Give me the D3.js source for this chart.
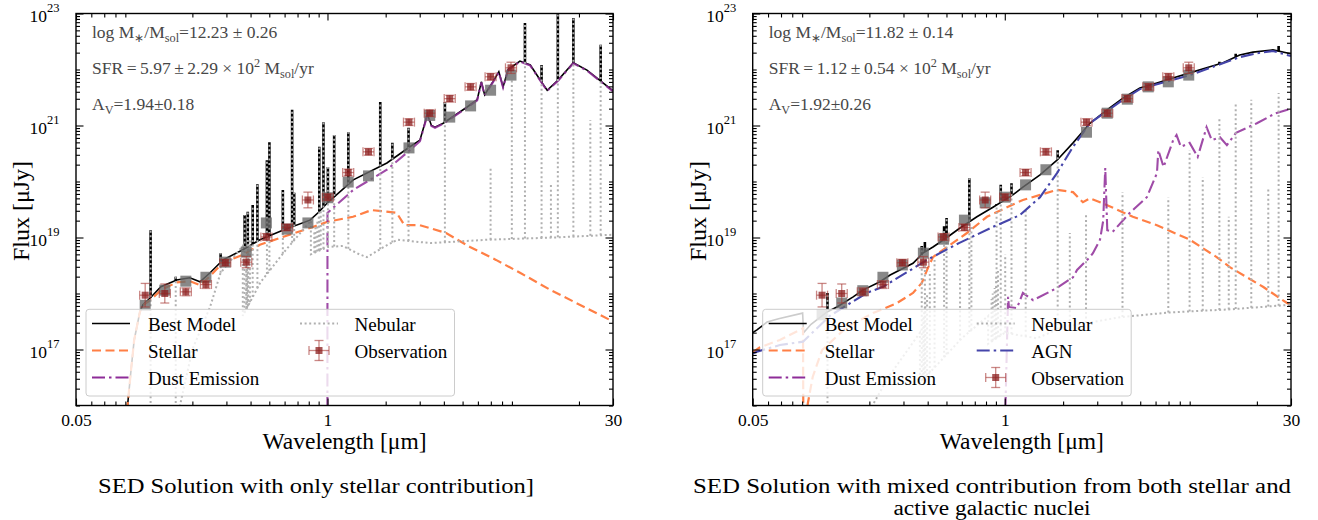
<!DOCTYPE html>
<html>
<head>
<meta charset="utf-8">
<script src="https://cdn.jsdelivr.net/npm/d3@7"></script>
<style>
  body { margin: 0; background: #fff; }
  svg { display: block; }
</style>
</head>
<body>
<script>
// ---- data (wavelength in micron, flux as log10 of microJy) ----
var obsWave    = [0.114, 0.144, 0.185, 0.235, 0.296, 0.38, 0.483, 0.619, 0.792, 1.004, 1.28, 1.63, 2.64, 3.38, 4.29, 5.5, 6.98, 8.9];
var obsLogFlux = [17.97, 18.0, 18.03, 18.16, 18.55, 18.56, 19.01, 19.18, 19.67, 19.72, 20.16, 20.53, 21.06, 21.22, 21.48, 21.69, 21.87, 22.03];
var obsLogErr  = [0.21, 0.17, 0.07, 0.07, 0.06, 0.1, 0.06, 0.06, 0.14, 0.06, 0.06, 0.06, 0.06, 0.06, 0.06, 0.06, 0.06, 0.1];

var leftModelPhot  = [17.79, 18.06, 18.22, 18.29, 18.56, 18.74, 19.26, 19.15, 19.26, 19.71, 19.99, 20.1, 20.6, 21.18, 21.15, 21.35, 21.63, 21.9];
var rightModelPhot = [17.62, 17.83, 18.05, 18.29, 18.51, 18.72, 18.97, 19.31, 19.62, 19.72, 19.94, 20.21, 20.88, 21.22, 21.47, 21.69, 21.78, 21.9];

// left panel: stellar only
var leftBest = [[0.0918,15.9],[0.0963,16.63],[0.1,17.17],[0.107,17.67],[0.111,17.8],[0.121,17.92],[0.1375,18.12],[0.166,18.24],[0.194,18.28],[0.219,18.21],[0.247,18.37],[0.288,18.6],[0.365,18.78],[0.447,18.96],[0.587,19.13],[0.812,19.31],[0.9,19.45],[1.0,19.62],[1.36,20.03],[2.03,20.33],[2.67,20.62],[3.01,20.74],[3.29,21.2],[3.45,21.0],[3.6,20.97],[3.97,21.04],[5.28,21.33],[5.95,21.46],[6.25,21.78],[6.5,21.55],[7.17,21.78],[7.7,21.96],[8.1,21.69],[8.6,22.0],[9.9,22.15],[11.2,22.08],[12.9,21.76],[13.7,21.63],[15.6,21.81],[18.7,22.12],[22.0,21.99],[30,21.62]];
var leftBestLines = [[0.1216,19.13],[0.164,18.3],[0.28,18.72],[0.3727,19.4],[0.3869,19.46],[0.4102,19.58],[0.434,19.95],[0.4861,20.38],[0.5007,20.7],[0.5876,19.85],[0.6563,21.28],[0.6725,19.8],[0.9069,20.62],[0.9531,21.06],[1.005,20.26],[1.083,20.83],[1.282,20.88],[1.875,21.42],[2.166,20.69],[2.626,20.96],[4.05,21.42],[10.51,22.83],[12.81,22.08],[15.55,23.2],[18.71,22.92],[25.9,22.44]];
var leftStellar = [[0.0918,15.9],[0.0963,16.63],[0.1,17.17],[0.107,17.67],[0.111,17.79],[0.121,17.88],[0.1375,18.06],[0.166,18.2],[0.194,18.22],[0.219,18.15],[0.247,18.31],[0.288,18.55],[0.365,18.69],[0.447,18.87],[0.587,19.01],[0.812,19.17],[1.0,19.28],[1.355,19.37],[1.69,19.49],[2.28,19.44],[2.5,19.22],[3.01,19.22],[4.11,19.08],[5.46,18.83],[7.44,18.6],[9.91,18.37],[14.3,18.06],[30,17.5]];
var leftDust = [[0.999,15.5],[1.0,19.44],[1.36,19.85],[2.03,20.21],[2.67,20.56],[3.01,20.72],[3.29,21.19],[3.45,20.99],[3.6,20.96],[3.97,21.03],[5.28,21.32],[5.95,21.45],[6.25,21.77],[6.5,21.54],[7.17,21.77],[7.7,21.95],[8.1,21.68],[8.6,21.99],[9.9,22.14],[11.2,22.07],[12.9,21.75],[13.7,21.62],[15.6,21.8],[18.7,22.11],[22.0,21.98],[30,21.61]];
var leftNebular = [[0.17,15.9],[0.2,17.0],[0.247,17.76],[0.28,18.37],[0.3646,18.85],[0.3648,17.6],[0.45,18.2],[0.6,18.75],[0.8204,19.3],[0.8206,18.7],[1.0,18.83],[1.2,18.85],[1.46,18.7],[1.6,18.65],[2.0,18.85],[2.3,18.96],[3.4,18.9],[6.7,18.96],[15,19.0],[30,19.05]];
var leftNebularLines = [[0.1216,19.13],[0.164,18.3],[0.28,18.72],[0.3727,19.4],[0.3798,18.6],[0.3835,18.7],[0.3869,19.46],[0.3889,18.9],[0.397,19.0],[0.4102,19.58],[0.434,19.95],[0.4861,20.38],[0.5007,20.7],[0.5876,19.85],[0.6563,21.28],[0.6725,19.8],[0.8545,19.1],[0.8665,19.2],[0.8863,19.3],[0.9015,19.4],[0.9069,20.62],[0.9229,19.5],[0.9531,21.06],[1.005,20.26],[1.083,20.83],[1.282,20.88],[1.875,21.42],[2.166,20.69],[2.626,20.96],[4.05,21.42],[6.98,20.24],[8.99,21.85],[10.51,22.83],[12.81,22.08],[14.32,19.97],[15.55,23.2],[18.71,22.92],[22.9,21.1],[25.9,22.44]];

// right panel: stellar + AGN
var rightBest = [[0.05,17.3],[0.0526,17.35],[0.0593,17.49],[0.068,17.55],[0.0905,17.65],[0.0915,17.3],[0.1,17.45],[0.121,17.67],[0.136,17.76],[0.165,17.94],[0.185,18.06],[0.227,18.21],[0.256,18.33],[0.336,18.54],[0.378,18.72],[0.426,18.83],[0.503,19.0],[0.587,19.17],[0.718,19.37],[0.869,19.54],[1.1,19.76],[1.24,19.9],[1.52,20.12],[1.86,20.38],[2.25,20.69],[2.75,21.04],[3.37,21.28],[4.07,21.49],[4.98,21.67],[6.1,21.76],[7.37,21.85],[9.02,21.94],[11.0,22.03],[13.4,22.12],[16.3,22.26],[19.1,22.31],[24.2,22.35],[30,22.28]];
var rightBestLines = [[0.1216,18.01],[0.3727,18.85],[0.3869,18.92],[0.4861,19.2],[0.5007,19.35],[0.6563,20.06],[0.9069,19.6],[0.9531,19.94],[1.083,19.97],[1.875,20.56],[12.81,22.14],[15.55,22.28],[25.9,22.42]];
var rightStellar = [[0.05,16.95],[0.0545,17.04],[0.0691,17.17],[0.0909,17.38],[0.0913,15.5],[0.0964,16.05],[0.102,16.51],[0.114,16.99],[0.153,17.4],[0.209,17.65],[0.278,17.83],[0.336,18.01],[0.373,18.19],[0.397,18.42],[0.426,18.65],[0.48,18.78],[0.503,18.83],[0.638,19.08],[0.809,19.37],[1.026,19.54],[1.24,19.67],[1.86,19.85],[2.25,19.81],[2.53,19.63],[2.75,19.7],[3.1,19.63],[3.62,19.53],[4.58,19.37],[6.1,19.22],[9.02,18.96],[12.4,18.65],[14.5,18.47],[21.5,18.12],[28.6,17.83],[30,17.79]];
var rightDust = [[1.0,15.5],[1.04,17.94],[1.05,17.76],[1.156,17.74],[1.24,18.01],[1.4,17.88],[1.86,18.1],[2.25,18.29],[2.36,18.42],[2.75,18.65],[2.85,18.72],[3.1,18.96],[3.22,19.3],[3.3,20.24],[3.38,19.13],[3.6,19.1],[4.42,19.44],[5.41,19.72],[6.1,20.15],[6.2,20.56],[6.6,20.26],[7.4,20.74],[7.7,20.83],[8.1,20.62],[9.0,20.69],[9.9,20.44],[11.0,20.97],[11.7,20.74],[12.9,20.79],[14.0,20.65],[15.6,20.87],[20.0,21.04],[25.0,21.22],[30,21.3]];
var rightAgn = [[0.05,16.93],[0.0526,16.96],[0.0691,17.08],[0.0909,17.14],[0.125,17.6],[0.153,17.79],[0.194,18.01],[0.235,18.12],[0.313,18.38],[0.397,18.6],[0.58,18.9],[0.87,19.19],[1.197,19.4],[1.52,19.72],[1.86,20.15],[2.25,20.62],[2.75,21.04],[3.37,21.26],[4.07,21.46],[4.98,21.65],[9.02,21.9],[16.3,22.22],[20.0,22.29],[24.2,22.33],[30,22.24]];
var rightNebular = [[0.2,15.9],[0.25,16.5],[0.3646,17.3],[0.3648,16.4],[0.6,17.2],[0.8204,17.6],[0.8206,17.1],[1.0,17.3],[1.46,17.2],[2.0,17.4],[4.0,17.58],[7.0,17.66],[15,17.72],[30,17.8]];
var rightNebularLines = [[0.1216,18.0],[0.3727,18.83],[0.3798,17.6],[0.3835,17.7],[0.3869,18.5],[0.3889,17.9],[0.397,18.0],[0.4102,18.4],[0.434,18.6],[0.4861,19.13],[0.5007,19.35],[0.5876,18.6],[0.6563,20.06],[0.6725,19.22],[0.8545,17.9],[0.8665,18.0],[0.8863,18.1],[0.9015,18.3],[0.9069,19.58],[0.9229,18.4],[0.9531,19.94],[1.005,18.7],[1.083,19.97],[1.282,19.49],[1.875,20.56],[2.166,19.08],[2.626,19.4],[4.05,19.81],[6.98,19.72],[8.99,20.56],[10.51,20.08],[12.81,21.13],[14.32,19.37],[15.55,21.42],[18.71,21.46],[22.9,19.88],[25.9,21.58]];

var xTickValues = [0.05, 1, 30];
var xTickLabels = ["0.05", "1", "30"];
var yLabelExps = [17, 19, 21, 23];

var leftNotes = [
  [["log M", ""], ["\u2217", "sub"], ["/M", ""], ["sol", "sub"], ["=12.23 \u00b1 0.26", ""]],
  [["SFR\u2009=\u20095.97\u2009\u00b1\u20092.29 \u00d7 10", ""], ["2", "sup"], [" M", ""], ["sol", "sub"], ["/yr", ""]],
  [["A", ""], ["V", "sub"], ["=1.94\u00b10.18", ""]]
];
var rightNotes = [
  [["log M", ""], ["\u2217", "sub"], ["/M", ""], ["sol", "sub"], ["=11.82 \u00b1 0.14", ""]],
  [["SFR\u2009=\u20091.12\u2009\u00b1\u20090.54 \u00d7 10", ""], ["2", "sup"], [" M", ""], ["sol", "sub"], ["/yr", ""]],
  [["A", ""], ["V", "sub"], ["=1.92\u00b10.26", ""]]
];

// ---- styles ----
var FONT = "'Liberation Serif', 'Times New Roman', serif";
var colors = {
  best: "#000000", stellar: "#ff7f45", dust: "#8e2c98", nebular: "#b0b0b0",
  agn: "#4545aa", obs: "#8b1e1e", obsBar: "#a83a36", phot: "#6a6a6a"
};
var dashes = { stellar: "9,4.5", dust: "13,4,2.5,4", agn: "13,4,2.5,4", nebular: "2,2.6" };

var svg = d3.select("body").append("svg").attr("width", 1318).attr("height", 520)
  .style("font-family", FONT);

function pow10(v) { return Math.pow(10, v); }

// value of a curve at a wavelength (log-log between the two neighbours); below the axis when outside it
function baseAt(curve, lam) {
  if (lam <= curve[0][0] || lam >= curve[curve.length - 1][0]) return 15.8;
  var i = d3.bisector(function(d) { return d[0]; }).right(curve, lam);
  var a = curve[i - 1], b = curve[i];
  var t = (Math.log(lam) - Math.log(a[0])) / (Math.log(b[0]) - Math.log(a[0]));
  return a[1] + t * (b[1] - a[1]);
}

function richText(g, x, y, parts, size, color) {
  var t = g.append("text").attr("x", x).attr("y", y).style("font-family", FONT)
    .style("font-size", size + "px").style("fill", color);
  var shift = 0;
  parts.forEach(function(p) {
    var target = p[1] === "sub" ? size * 0.25 : (p[1] === "sup" ? -size * 0.42 : 0);
    var s = t.append("tspan").text(p[0]).attr("dy", target - shift);
    if (p[1]) s.style("font-size", (size * 0.7) + "px");
    shift = target;
  });
  return t;
}

function drawObsMarker(g, cx, cy, yLo, yHi, hw, cap) {
  var m = g.append("g");
  m.append("line").attr("x1", cx).attr("x2", cx).attr("y1", yLo).attr("y2", yHi);
  m.append("line").attr("x1", cx - cap).attr("x2", cx + cap).attr("y1", yLo).attr("y2", yLo);
  m.append("line").attr("x1", cx - cap).attr("x2", cx + cap).attr("y1", yHi).attr("y2", yHi);
  m.append("line").attr("x1", cx - hw).attr("x2", cx + hw).attr("y1", cy).attr("y2", cy);
  m.append("line").attr("x1", cx - hw).attr("x2", cx - hw).attr("y1", cy - cap).attr("y2", cy + cap);
  m.append("line").attr("x1", cx + hw).attr("x2", cx + hw).attr("y1", cy - cap).attr("y2", cy + cap);
  m.selectAll("line").style("stroke", colors.obsBar).style("stroke-width", 1.3).style("opacity", 0.6);
  m.append("rect").attr("x", cx - 3.5).attr("y", cy - 3.5).attr("width", 7).attr("height", 7)
    .style("fill", colors.obs).style("opacity", 0.75);
}

function drawPanel(cfg) {
  var x = d3.scaleLog().domain([0.05, 30]).range([cfg.left, cfg.right]);
  var y = d3.scaleLog().domain([1e16, 1e23]).range([cfg.bottom, cfg.top]);
  var line = d3.line()
    .x(function(d) { return x(d[0]); })
    .y(function(d) { return y(pow10(d[1])); });

  var g = svg.append("g");
  g.append("clipPath").attr("id", "clip" + cfg.id).append("rect")
    .attr("x", cfg.left).attr("y", cfg.top)
    .attr("width", cfg.right - cfg.left).attr("height", cfg.bottom - cfg.top);
  var plot = g.append("g").attr("clip-path", "url(#clip" + cfg.id + ")");

  function spikes(lines, base) {
    var path = d3.path();
    lines.forEach(function(l) {
      var b = baseAt(base, l[0]);
      if (l[1] <= b) return;
      path.moveTo(x(l[0]), y(pow10(b)));
      path.lineTo(x(l[0]), y(pow10(l[1])));
    });
    return path.toString();
  }

  // best model
  plot.append("path").datum(cfg.best).attr("d", line)
    .style("fill", "none").style("stroke", colors.best).style("stroke-width", 1.6);
  plot.append("path").attr("d", spikes(cfg.bestLines, cfg.best))
    .style("fill", "none").style("stroke", colors.best).style("stroke-width", 2.6);

  // stellar
  plot.append("path").datum(cfg.stellar).attr("d", line)
    .style("fill", "none").style("stroke", colors.stellar).style("stroke-width", 2.2)
    .style("stroke-dasharray", dashes.stellar);

  // dust
  plot.append("path").datum(cfg.dust).attr("d", line)
    .style("fill", "none").style("stroke", colors.dust).style("stroke-width", 2.1)
    .style("stroke-dasharray", dashes.dust).style("opacity", 0.85);

  // nebular
  plot.append("path").datum(cfg.nebular).attr("d", line)
    .style("fill", "none").style("stroke", colors.nebular).style("stroke-width", 2)
    .style("stroke-dasharray", dashes.nebular);
  plot.append("path").attr("d", spikes(cfg.nebularLines, cfg.nebular))
    .style("fill", "none").style("stroke", colors.nebular).style("stroke-width", 2)
    .style("stroke-dasharray", dashes.nebular);

  // AGN
  if (cfg.agn) {
    plot.append("path").datum(cfg.agn).attr("d", line)
      .style("fill", "none").style("stroke", colors.agn).style("stroke-width", 2.1)
      .style("stroke-dasharray", dashes.agn);
  }

  // model photometry
  plot.selectAll(".phot").data(obsWave).enter().append("rect")
    .attr("x", function(d) { return x(d) - 5.5; })
    .attr("y", function(d, i) { return y(pow10(cfg.phot[i])) - 5.5; })
    .attr("width", 11).attr("height", 11)
    .style("fill", colors.phot).style("opacity", 0.8);

  // observations
  obsWave.forEach(function(w, i) {
    drawObsMarker(plot, x(w), y(pow10(obsLogFlux[i])),
      y(pow10(obsLogFlux[i] - obsLogErr[i])), y(pow10(obsLogFlux[i] + obsLogErr[i])), 5.5, 4.5);
  });

  // ---- axes (ticks inward on all four sides) ----
  var minorX = [];
  [-2, -1, 0, 1].forEach(function(e) {
    d3.range(2, 10).forEach(function(k) {
      var v = k * Math.pow(10, e);
      if (v > 0.0501 && v < 29.9) minorX.push(v);
    });
  });
  var majorY = d3.range(16, 24).map(pow10);
  var labelY = yLabelExps.map(pow10);
  var minorY = [];
  d3.range(16, 23).forEach(function(e) {
    d3.range(2, 10).forEach(function(k) { minorY.push(k * Math.pow(10, e)); });
  });
  var otherDecades = majorY.filter(function(v) { return labelY.indexOf(v) < 0; });

  function tickGroup(axis, tx, ty) {
    var a = g.append("g").attr("transform", "translate(" + tx + "," + ty + ")").call(axis);
    a.select(".domain").remove();
    a.selectAll("line").style("stroke", "#000").style("stroke-width", 1.1);
    return a;
  }
  tickGroup(d3.axisBottom(x).tickValues(minorX).tickSize(-4).tickFormat(""), 0, cfg.bottom);
  tickGroup(d3.axisTop(x).tickValues(minorX).tickSize(-4).tickFormat(""), 0, cfg.top);
  tickGroup(d3.axisTop(x).tickValues(xTickValues).tickSize(-7).tickFormat(""), 0, cfg.top);
  var xb = tickGroup(d3.axisBottom(x).tickValues(xTickValues).tickSize(-7).tickPadding(8)
    .tickFormat(function(d, i) { return xTickLabels[i]; }), 0, cfg.bottom);
  xb.selectAll("text").style("font-family", FONT)
    .style("font-size", "17.5px").style("fill", "#000");

  [[minorY, 4], [otherDecades, 4], [labelY, 7.5]].forEach(function(set) {
    tickGroup(d3.axisLeft(y).tickValues(set[0]).tickSize(-set[1]).tickFormat(""), cfg.left, 0);
    tickGroup(d3.axisRight(y).tickValues(set[0]).tickSize(-set[1]).tickFormat(""), cfg.right, 0);
  });

  yLabelExps.forEach(function(e) {
    var yy = y(pow10(e));
    var t = g.append("text").attr("x", cfg.left - 16.5).attr("y", yy + 8).style("font-family", FONT)
      .attr("text-anchor", "end").style("font-size", "17.5px").style("fill", "#000");
    t.append("tspan").text("10");
    t.append("tspan").text(String(e)).attr("dy", -9.5).style("font-size", "12.5px");
  });

  // frame
  g.append("rect").attr("x", cfg.left).attr("y", cfg.top)
    .attr("width", cfg.right - cfg.left).attr("height", cfg.bottom - cfg.top)
    .style("fill", "none").style("stroke", "#000").style("stroke-width", 1.4);

  // axis titles
  g.append("text").attr("x", (cfg.left + cfg.right) / 2).attr("y", 449).style("font-family", FONT)
    .attr("text-anchor", "middle").style("font-size", "23.5px").text("Wavelength [\u03bcm]");
  g.append("text").attr("transform", "translate(" + (cfg.left - 47) + "," + 211 + ") rotate(-90)")
    .style("font-family", FONT)
    .attr("text-anchor", "middle").style("font-size", "24px").text("Flux [\u03bcJy]");

  // fit results
  cfg.notes.forEach(function(n, i) {
    richText(g, cfg.left + 16, [38, 74, 110][i], n, 17.5, "#474747");
  });

  // ---- legend ----
  var lx = cfg.left + 10, ly = 309.3, lw = 368.5, lh = 86.7;
  var leg = g.append("g");
  leg.append("rect").attr("x", lx).attr("y", ly).attr("width", lw).attr("height", lh)
    .attr("rx", 3).style("fill", "#fff").style("fill-opacity", 0.8)
    .style("stroke", "#cccccc").style("stroke-width", 1);
  var rows = [323.5, 350.5, 377.5];
  cfg.legend.forEach(function(item, i) {
    var col = Math.floor(i / 3), ry = rows[i % 3];
    var hx = lx + 6 + col * 208, tx = lx + 62 + col * 206.5;
    if (item.key === "obs") {
      drawObsMarker(leg, hx + 19, ry, ry + 10, ry - 10, 10, 4.5);
    } else {
      leg.append("line").attr("x1", hx).attr("x2", hx + 38).attr("y1", ry).attr("y2", ry)
        .style("stroke", colors[item.key])
        .style("stroke-width", item.key === "best" ? 1.6 : 2.1)
        .style("stroke-dasharray", dashes[item.key] || null);
    }
    leg.append("text").attr("x", tx).attr("y", ry + 7).style("font-family", FONT)
      .style("font-size", "19px").text(item.label);
  });
}

drawPanel({
  id: "L", left: 76, right: 613, top: 13.5, bottom: 405.5,
  best: leftBest, bestLines: leftBestLines, stellar: leftStellar, dust: leftDust,
  nebular: leftNebular, nebularLines: leftNebularLines, agn: null, phot: leftModelPhot,
  notes: leftNotes,
  legend: [
    { key: "best", label: "Best Model" }, { key: "stellar", label: "Stellar" },
    { key: "dust", label: "Dust Emission" }, { key: "nebular", label: "Nebular" },
    { key: "obs", label: "Observation" }
  ]
});

drawPanel({
  id: "R", left: 752.7, right: 1291, top: 13.5, bottom: 405.5,
  best: rightBest, bestLines: rightBestLines, stellar: rightStellar, dust: rightDust,
  nebular: rightNebular, nebularLines: rightNebularLines, agn: rightAgn, phot: rightModelPhot,
  notes: rightNotes,
  legend: [
    { key: "best", label: "Best Model" }, { key: "stellar", label: "Stellar" },
    { key: "dust", label: "Dust Emission" }, { key: "nebular", label: "Nebular" },
    { key: "agn", label: "AGN" }, { key: "obs", label: "Observation" }
  ]
});

// captions
var captionStyle = function(sel) {
  return sel.attr("text-anchor", "middle").style("font-family", FONT)
    .style("font-size", "20.5px").attr("lengthAdjust", "spacingAndGlyphs");
};
captionStyle(svg.append("text").attr("x", 316).attr("y", 493).attr("textLength", 436))
  .text("SED Solution with only stellar contribution]");
captionStyle(svg.append("text").attr("x", 992).attr("y", 493).attr("textLength", 598))
  .text("SED Solution with mixed contribution from both stellar and");
captionStyle(svg.append("text").attr("x", 992).attr("y", 515).attr("textLength", 197))
  .text("active galactic nuclei");
</script>
</body>
</html>
